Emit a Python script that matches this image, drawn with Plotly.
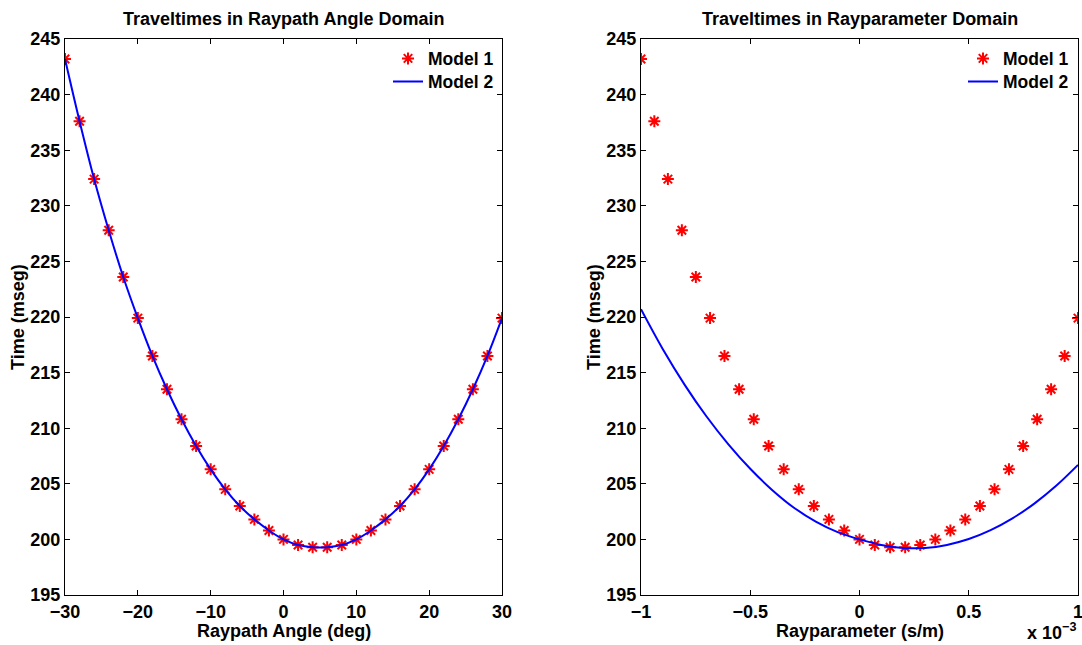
import plotly.graph_objects as go

# ---------------- data ----------------
angle_deg = [-30, -28, -26, -24, -22, -20, -18, -16, -14, -12, -10, -8, -6, -4, -2,
             0, 2, 4, 6, 8, 10, 12, 14, 16, 18, 20, 22, 24, 26, 28, 30]
model1_time = [243.2, 237.6, 232.4, 227.8, 223.6, 219.9, 216.5, 213.5, 210.8, 208.4,
               206.3, 204.5, 203.0, 201.8, 200.8, 200.0, 199.5, 199.3, 199.3, 199.5,
               200.0, 200.8, 201.8, 203.0, 204.5, 206.3, 208.4, 210.8, 213.5, 216.5, 219.9]
model2_time_angle = [243.2, 237.6, 232.4, 227.8, 223.6, 219.9, 216.5, 213.5, 210.8, 208.4,
                     206.3, 204.5, 203.0, 201.8, 200.8, 200.0, 199.5, 199.3, 199.3, 199.5,
                     200.0, 200.8, 201.8, 203.0, 204.5, 206.3, 208.4, 210.8, 213.5, 216.5, 219.9]

# ray parameter of the Model 1 samples (s/m)
rayparam_m1 = [-1.0e-3, -0.939e-3, -0.877e-3, -0.813e-3, -0.749e-3, -0.684e-3, -0.618e-3,
               -0.551e-3, -0.484e-3, -0.416e-3, -0.347e-3, -0.278e-3, -0.209e-3, -0.140e-3,
               -0.070e-3, 0.0, 0.070e-3, 0.140e-3, 0.209e-3, 0.278e-3, 0.347e-3, 0.416e-3,
               0.484e-3, 0.551e-3, 0.618e-3, 0.684e-3, 0.749e-3, 0.813e-3, 0.877e-3,
               0.939e-3, 1.0e-3]

# Model 2 in the ray-parameter domain
rayparam_m2 = [-1.0e-3, -0.9e-3, -0.8e-3, -0.7e-3, -0.6e-3, -0.5e-3, -0.4e-3, -0.3e-3,
               -0.2e-3, -0.1e-3, 0.0, 0.1e-3, 0.2e-3, 0.3e-3, 0.4e-3, 0.5e-3, 0.6e-3,
               0.7e-3, 0.8e-3, 0.9e-3, 1.0e-3]
model2_time_p = [220.7, 217.1, 213.9, 211.05, 208.55, 206.35, 204.45, 202.85, 201.6, 200.65,
                 200.0, 199.5, 199.23, 199.23, 199.5, 200.03, 200.83, 201.89, 203.22, 204.82, 206.7]

y_ticks = [195, 200, 205, 210, 215, 220, 225, 230, 235, 240, 245]
x_ticks_angle = [-30, -20, -10, 0, 10, 20, 30]
x_ticks_p = [-1e-3, -0.5e-3, 0, 0.5e-3, 1e-3]
x_ticktext_p = ["\u22121", "\u22120.5", "0", "0.5", "1"]

# ---------------- layout helpers ----------------
W, H = 1082, 645
FONT = "Liberation Sans, Arial, Helvetica, sans-serif"
FS = 18

def px(xp):
    return xp / W

def py(yp):
    return 1 - yp / H

L1, R1 = 65, 502
L2, R2 = 641, 1078
TOP, BOT = 39, 595

fig = go.Figure()

star = dict(symbol="asterisk-open", size=10, color="red", line=dict(color="red", width=2))
blue = dict(color="#0000ff", width=2)

fig.add_trace(go.Scatter(x=angle_deg, y=model1_time, mode="markers", marker=star,
                         name="Model 1", xaxis="x", yaxis="y", legend="legend"))
fig.add_trace(go.Scatter(x=angle_deg, y=model2_time_angle, mode="lines", line=dict(shape="spline", **blue),
                         name="Model 2", xaxis="x", yaxis="y", legend="legend2"))
fig.add_trace(go.Scatter(x=rayparam_m1, y=model1_time, mode="markers", marker=star,
                         name="Model 1", xaxis="x2", yaxis="y2", legend="legend3"))
fig.add_trace(go.Scatter(x=rayparam_m2, y=model2_time_p, mode="lines", line=dict(shape="spline", **blue),
                         name="Model 2", xaxis="x2", yaxis="y2", legend="legend4"))

axis_common = dict(showgrid=False, zeroline=False, showline=True, linecolor="black", linewidth=1,
                   mirror="ticks", ticks="inside", ticklen=5, tickwidth=1, tickcolor="black",
                   automargin=False, ticklabeloverflow="allow",
                   tickfont=dict(family=FONT, size=FS, color="black", weight="bold"))

legend_font = dict(family=FONT, size=17.5, color="black", weight="bold")

def leg(xp, ycenter):
    return dict(x=px(xp), y=py(ycenter - 18), xanchor="left", yanchor="top",
                bgcolor="rgba(0,0,0,0)", borderwidth=0, font=legend_font, tracegroupgap=0)

fig.update_layout(
    template="none",
    width=W, height=H,
    margin=dict(l=0, r=0, t=0, b=0, autoexpand=False),
    paper_bgcolor="white", plot_bgcolor="white",
    font=dict(family=FONT, size=FS, color="black", weight="bold"),
    xaxis=dict(domain=[px(L1), px(R1)], range=[-30, 30], tickvals=x_ticks_angle,
               anchor="y", **axis_common),
    yaxis=dict(domain=[py(BOT), py(TOP)], range=[195, 245], tickvals=y_ticks,
               anchor="x", **axis_common),
    xaxis2=dict(domain=[px(L2), px(R2)], range=[-1e-3, 1e-3], tickvals=x_ticks_p,
                ticktext=x_ticktext_p, anchor="y2", **axis_common),
    yaxis2=dict(domain=[py(BOT), py(TOP)], range=[195, 245], tickvals=y_ticks,
                anchor="x2", **axis_common),
    legend=leg(388, 58.5),
    legend2=leg(388, 81.5),
    legend3=leg(963, 58.5),
    legend4=leg(963, 81.5),
    showlegend=True,
)

def ann(text, x, y, **kw):
    d = dict(text=text, x=px(x), y=py(y), xref="paper", yref="paper", showarrow=False,
             font=dict(family=FONT, size=FS, color="black", weight="bold"),
             xanchor="center", yanchor="middle")
    d.update(kw)
    fig.add_annotation(**d)

ann("Traveltimes in Raypath Angle Domain", (L1 + R1) / 2, 19)
ann("Traveltimes in Rayparameter Domain", (L2 + R2) / 2, 19)
ann("Raypath Angle (deg)", (L1 + R1) / 2, 631)
ann("Rayparameter (s/m)", (L2 + R2) / 2, 631)
ann("Time (mseg)", 18, (TOP + BOT) / 2, textangle=-90)
ann("Time (mseg)", 594, (TOP + BOT) / 2, textangle=-90)
ann("x 10<sup>\u22123</sup>", R2, 645, xanchor="right", yanchor="bottom")

fig.write_html("out.html")
